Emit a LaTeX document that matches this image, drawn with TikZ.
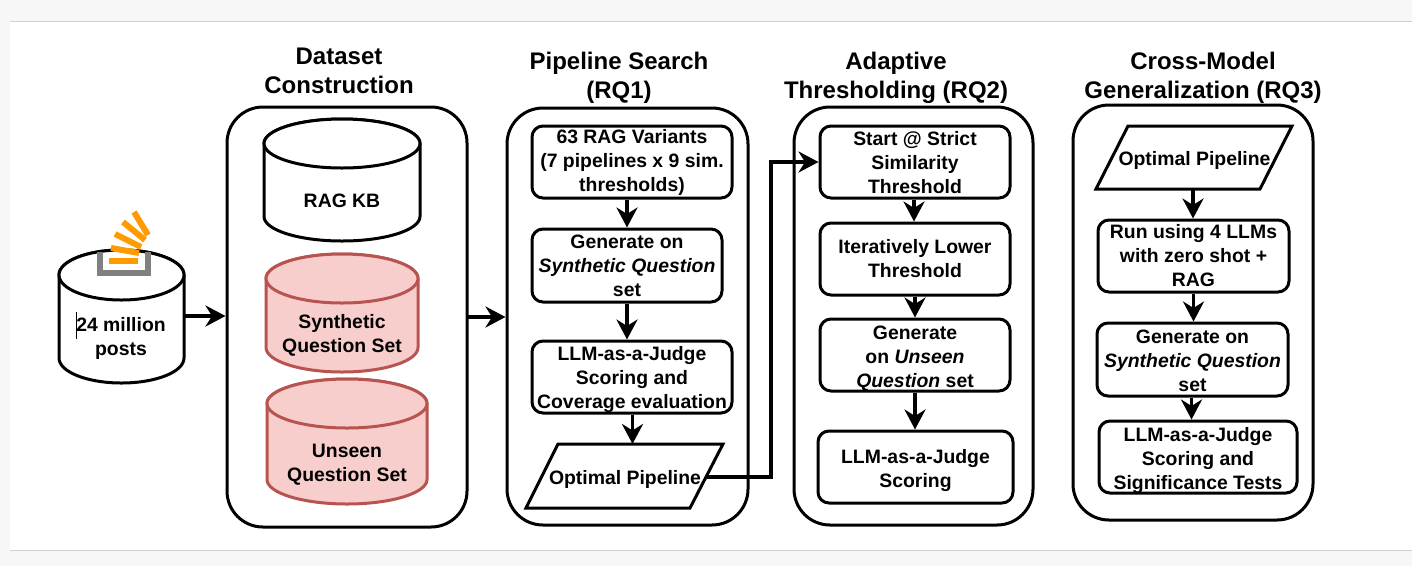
\documentclass[tikz,border=0pt]{standalone}
\usepackage{fontspec}
\setmainfont{Liberation Sans}
\usetikzlibrary{arrows.meta}
\definecolor{pagegray}{HTML}{F7F7F7}
\definecolor{rulegray}{HTML}{D0D0D0}
\definecolor{iconbar}{HTML}{FF9A00}
\definecolor{icongray}{HTML}{808080}
\definecolor{redfill}{HTML}{F8CECC}
\definecolor{redline}{HTML}{B85450}
\tikzset{
  txt/.style={font=\fontsize{19.4}{24}\selectfont\bfseries,align=center,inner sep=5,text=black},
  ttl/.style={font=\fontsize{24}{29.5}\selectfont\bfseries,align=center,inner sep=0,text=black},
  panel/.style={draw=black,line width=3,rounded corners=36,fill=white},
  bx/.style={draw=black,line width=3,rounded corners=11,fill=white},
  para/.style={draw=black,line width=3,fill=white,line join=miter},
  arr/.style={draw=black,line width=3.6,-{Stealth[length=20,width=21,inset=6.5]}},
  bar/.style={draw=iconbar,line width=6},
}
% x1, y1, x2, y2, ry, fill, line
\newcommand{\cyl}[7]{%
  \path[draw=#7,fill=#6,line width=3]
    (#1,#2+#5) arc[start angle=180,end angle=360,x radius=(#3-#1)/2,y radius=#5]
    -- (#3,#4-#5) arc[start angle=0,end angle=180,x radius=(#3-#1)/2,y radius=#5] -- cycle;
  \path[draw=#7,fill=#6,line width=3] ({(#1+#3)/2},#2+#5) ellipse[x radius=(#3-#1)/2,y radius=#5];
}
% optional text offset, name, x1, y1, x2, y2, text
\newcommand{\rbox}[7][0]{%
  \node[bx,inner sep=0,minimum width=#5-#3,minimum height=#6-#4] (#2) at ({(#3+#5)/2},{(#4+#6)/2}) {};
  \node[txt] (#2t) at ({(#3+#5)/2},{(#4+#6)/2+#1}) {#7};
}
\newcommand{\panelbox}[5]{%
  \node[panel,minimum width=#4-#2,minimum height=#5-#3,inner sep=0] (#1) at ({(#2+#4)/2},{(#3+#5)/2}) {};
}
\begin{document}
\begin{tikzpicture}[x=1pt,y=-1pt]
\useasboundingbox (0,0) rectangle (1412,566);
\fill[pagegray] (0,0) rectangle (1412,566);
\fill[white] (10,21.5) rectangle (1412,550);
\draw[rulegray,line width=1] (10,21.5) -- (1412,21.5);
\draw[rulegray,line width=1] (10,550) -- (1412,550);

% source
\cyl{59}{250}{184}{383}{25}{white}{black}
\node[txt] (srct) at (121,338.5) {24 million\\posts};
\draw[icongray,line width=6,line cap=butt] (100,252) -- (100,273) -- (147.5,273) -- (147.5,252);
\draw[bar] (109,261) -- (138,261);
\draw[bar] (111,248) -- (139,253);
\draw[bar] (115,234) -- (141,247);
\draw[bar] (123,222) -- (145,240);
\draw[bar] (134,212) -- (148,235);
\draw[black,line width=0.8] (76.5,312) -- (76.5,339);

% panels
\panelbox{pa}{227}{107}{467}{527}
\panelbox{pb}{507}{108}{748}{525}
\panelbox{pc}{794}{107}{1033}{525}
\panelbox{pd}{1073}{105}{1313}{520}

% titles
\node[ttl] (ta) at (339,71) {Dataset\\Construction};
\node[ttl] (tb) at (619,78) {Pipeline Search\\(RQ1)};
\node[ttl] (tc) at (896,78) {Adaptive\\Thresholding (RQ2)};
\node[ttl] (td) at (1203,78) {Cross-Model\\Generalization (RQ3)};

% dataset
\cyl{264}{119}{420}{241}{24.5}{white}{black}
\node[txt] (kbt) at (342,200.5) {RAG KB};
\cyl{266}{254}{418}{372}{24.5}{redfill}{redline}
\node[txt] (synt) at (342,335) {Synthetic\\Question Set};
\cyl{267}{379}{427}{504}{24.5}{redfill}{redline}
\node[txt] (unst) at (347,465) {Unseen\\Question Set};

% pipeline search
\rbox[0.5]{b1}{532}{126}{732}{198}{63 RAG Variants\\(7 pipelines x 9 sim.\\thresholds)}
\rbox{b2}{532}{229}{722}{302}{Generate on\\\textit{Synthetic Question}\\set}
\rbox[3]{b3}{532}{341}{732}{413}{LLM-as-a-Judge\\Scoring and\\Coverage evaluation}
\draw[para] (558,444) -- (723,444) -- (690,508) -- (526,508) -- cycle;
\node[txt] (op1) at (625,479.5) {Optimal Pipeline};

% adaptive
\rbox[0.5]{c1}{820}{126}{1010}{198}{Start @ Strict\\Similarity\\Threshold}
\rbox{c2}{820}{223}{1010}{295}{Iteratively Lower\\Threshold}
\rbox[3.5]{c3}{820}{319}{1010}{391}{Generate\\on \textit{Unseen}\\\textit{Question} set}
\rbox[4]{c4}{818}{431}{1013}{503}{LLM-as-a-Judge\\Scoring}

% cross-model
\draw[para] (1128,126) -- (1292,126) -- (1260,189) -- (1096,189) -- cycle;
\node[txt] (op2) at (1194.5,160.5) {Optimal Pipeline};
\rbox{d1}{1098}{220}{1289}{292}{Run using 4 LLMs\\with zero shot +\\RAG}
\rbox[1]{d2}{1097}{323}{1288}{396}{Generate on\\\textit{Synthetic Question}\\set}
\rbox[4]{d3}{1099}{421}{1297}{493}{LLM-as-a-Judge\\Scoring and\\Significance Tests}

% connectors
\coordinate (srcout) at (184,316);
\coordinate (paout) at (467,317);
\coordinate (bend0) at (706,477);
\coordinate (bend1) at (771,477);
\coordinate (bend2) at (771,162);
\coordinate (optop) at (632.5,444);
\coordinate (op2bot) at (1193,189);
\draw[arr] (srcout) -- (srcout -| pa.west);
\draw[arr] (paout) -- (paout -| pb.west);
\draw[arr] ([xshift=-5]b1.south) -- ([xshift=-5]b1.south |- b2.north);
\draw[arr] (b2.south) -- (b2.south |- b3.north);
\draw[arr] ([xshift=0.5]b3.south) -- (optop);
\draw[arr,line join=miter] (bend0) -- (bend1) -- (bend2) -- (bend2 -| c1.west);
\draw[arr] ([xshift=-1]c1.south) -- ([xshift=-1]c1.south |- c2.north);
\draw[arr] (c2.south) -- (c2.south |- c3.north);
\draw[arr] (c3.south) -- (c3.south |- c4.north);
\draw[arr] (op2bot) -- (op2bot |- d1.north);
\draw[arr] (d1.south) -- (d1.south |- d2.north);
\draw[arr] ([xshift=-1]d2.south) -- ([xshift=-1]d2.south |- d3.north);
\end{tikzpicture}
\end{document}
